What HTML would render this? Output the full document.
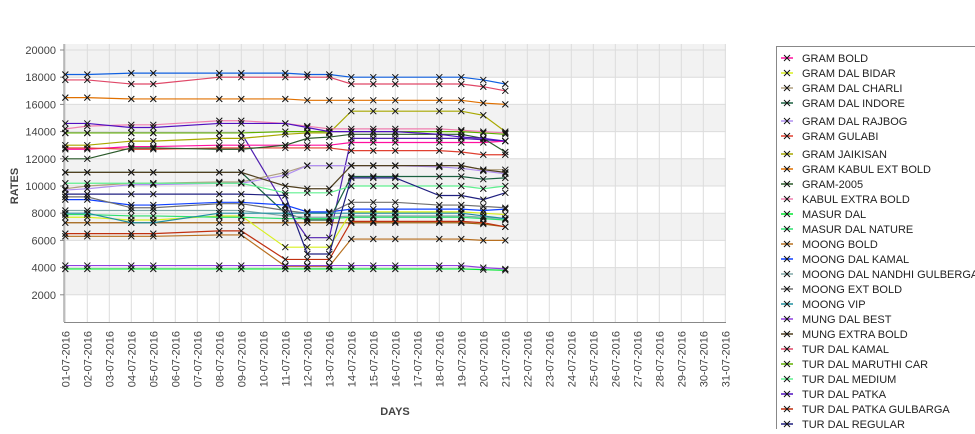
<!DOCTYPE html>
<html><head><meta charset="utf-8"><style>
body{margin:0;background:#fff;width:975px;height:429px;overflow:hidden;font-family:"Liberation Sans",sans-serif}
svg text{font-family:"Liberation Sans",sans-serif}
</style></head><body>
<svg id="chart" width="975" height="429" xmlns="http://www.w3.org/2000/svg"></svg>
<script>
const days=[1,2,4,5,8,9,11,12,13,14,15,16,18,19,20,21];
const yTicks=[2000,4000,6000,8000,10000,12000,14000,16000,18000,20000];
const seriesNames=["GRAM BOLD","GRAM DAL BIDAR","GRAM DAL CHARLI","GRAM DAL INDORE","GRAM DAL RAJBOG","GRAM GULABI","GRAM JAIKISAN","GRAM KABUL EXT BOLD","GRAM-2005","KABUL EXTRA BOLD","MASUR DAL","MASUR DAL NATURE","MOONG BOLD","MOONG DAL KAMAL","MOONG DAL NANDHI GULBERGA","MOONG EXT BOLD","MOONG VIP","MUNG DAL BEST","MUNG EXTRA BOLD","TUR DAL KAMAL","TUR DAL MARUTHI CAR","TUR DAL MEDIUM","TUR DAL PATKA","TUR DAL PATKA GULBARGA","TUR DAL REGULAR"];
const seriesColors=["#ff10a0","#d8f020","#b0a080","#1a6040","#b090f0","#e04030","#a8a800","#e07000","#2b5a2b","#f080b0","#00e830","#30e070","#b87020","#1040ff","#80a8a8","#707070","#2090a0","#9040e0","#504020","#e04868","#60b000","#60f090","#5010c0","#c03010","#202080"];
const s0=[12700,12700,12900,12900,13000,13000,13000,13000,13000,13200,13200,13200,13200,13200,13200,13300];
const s1=[7700,7700,7500,7500,7800,7800,5500,5500,5500,8100,8100,8100,8100,8100,8000,7900];
const s2=[9800,10000,10200,10200,10300,10300,11000,11500,11500,11500,11500,11500,11500,11500,11200,11200];
const s3=[11000,11000,11000,11000,11000,11000,8000,7500,7500,10700,10700,10700,10700,10700,10500,10600];
const s4=[9700,9800,10100,10100,10200,10200,10800,11500,11500,11500,11500,11500,11400,11300,11100,10900];
const s5=[12800,12800,12700,12700,12800,12800,12800,12800,12800,12600,12600,12600,12600,12500,12300,12300];
const s6=[13000,13000,13300,13300,13500,13500,13800,13900,13900,15500,15500,15500,15500,15500,15200,14000];
const s7=[16500,16500,16400,16400,16400,16400,16400,16300,16300,16300,16300,16300,16300,16300,16100,16000];
const s8=[12000,12000,12800,12800,12700,12700,13000,13500,13600,13800,13800,13800,13800,13800,13500,12500];
const s9=[14200,14400,14500,14500,14800,14800,14600,14400,14200,14200,14200,14200,14200,14100,14000,13900];
const s10=[3900,3900,3900,3900,3900,3900,3900,3900,3900,3900,3900,3900,3900,3900,3850,3800];
const s11=[7900,7900,7800,7800,7700,7700,7600,7600,7600,7700,7700,7700,7700,7700,7600,7500];
const s12=[6300,6300,6300,6300,6400,6400,4100,4100,4100,6100,6100,6100,6100,6100,6000,6000];
const s13=[9000,9000,8600,8600,8800,8800,8600,8100,8100,8300,8300,8300,8300,8300,8200,8300];
const s14=[8200,8200,8200,8200,8200,8200,7800,7700,7700,7800,7800,7800,7800,7800,7700,7600];
const s15=[9200,9200,8400,8400,8700,8700,8200,8000,8000,8800,8800,8800,8600,8600,8500,8400];
const s16=[8000,8000,7300,7300,8000,8000,8000,8000,8000,8000,8000,8000,8000,8000,7800,7600];
const s17=[4150,4150,4150,4150,4150,4150,4150,4150,4150,4150,4150,4150,4150,4150,4000,3900];
const s18=[11000,11000,11000,11000,11000,11000,10000,9800,9800,11500,11500,11500,11500,11500,11200,11000];
const s19=[17800,17800,17500,17500,18000,18000,18000,18000,18000,17500,17500,17500,17500,17500,17300,17000];
const s20=[13900,13900,13900,13900,13900,13900,14000,14000,14000,14000,14000,14000,14000,14000,13900,13800];
const s21=[10200,10200,10200,10200,10200,10200,9500,9500,9500,10000,10000,10000,10000,10000,9800,10000];
const s22=[14600,14600,14300,14300,14600,14600,14600,14300,14000,14000,14000,14000,13800,13600,13500,13300];
const s23=[6500,6500,6500,6500,6700,6700,4600,4600,4600,7400,7400,7400,7400,7400,7300,7000];
const s24=[9400,9400,9400,9400,9400,9400,9300,5000,5000,10600,10600,10600,9300,9300,9000,9500];
const extraTop=[18200,18200,18300,18300,18300,18300,18300,18200,18200,18000,18000,18000,18000,18000,17800,17500];
const extraDip=[13900,13900,13900,13900,13900,13900,8500,6200,6200,13500,13500,13500,13500,13500,13400,13300];
const extraBrown=[7300,7300,7300,7300,7300,7300,7300,7300,7300,7300,7300,7300,7300,7300,7200,7000];
const seriesData=[s0,s1,s2,s3,s4,s5,s6,s7,s8,s9,s10,s11,s12,s13,s14,s15,s16,s17,s18,s19,s20,s21,s22,s23,s24];

const NS="http://www.w3.org/2000/svg";
const svg=document.getElementById('chart');
const X0=65.3,DX=22,Y0=322,YK=272/20000,PL=64,PR=726,PT=44;
const xs=d=>X0+(d-1)*DX;
const ys=v=>Y0-v*YK;
function mk(tag,attrs,parent){const e=document.createElementNS(NS,tag);for(const k in attrs)e.setAttribute(k,attrs[k]);(parent||svg).appendChild(e);return e;}

const grid=mk('g',{});


mk('rect',{x:PL,y:PT,width:PR-PL,height:Y0-PT,fill:'#fff'},grid);
for(let i=0;i<yTicks.length;i++){
  if(i%2===0){const top=Math.min(yTicks[i]+2000,20000);mk('rect',{x:PL,y:ys(top),width:PR-PL,height:ys(yTicks[i])-ys(top),fill:'#f2f2f2'},grid);}
}
mk('rect',{x:PL,y:PT,width:PR-PL,height:ys(20000)-PT,fill:'#f2f2f2'},grid);
for(let d=1;d<=31;d++){mk('line',{x1:xs(d),x2:xs(d),y1:PT,y2:Y0,stroke:'#dcdcdc','stroke-width':1},grid);}
yTicks.forEach(v=>{mk('line',{x1:PL,x2:PR,y1:ys(v),y2:ys(v),stroke:'#dcdcdc','stroke-width':1},grid);});

const ax=mk('g',{});


mk('line',{x1:PL,x2:PL,y1:PT,y2:Y0,stroke:'#888'},ax);
yTicks.forEach(v=>{
  mk('line',{x1:PL-4,x2:PL,y1:ys(v),y2:ys(v),stroke:'#888'},ax);
  const t=mk('text',{x:PL-8,y:ys(v)+4,'text-anchor':'end','font-size':11,fill:'#444'},ax);t.textContent=v;
  
  
});
const yl=mk('text',{x:18,y:186,'font-size':11,'font-weight':'bold',fill:'#444','text-anchor':'middle',transform:'rotate(-90 18 186)'});
yl.textContent='RATES';



const xa=mk('g',{});


mk('line',{x1:PL,x2:PR,y1:Y0+0.5,y2:Y0+0.5,stroke:'#888'},xa);
for(let d=1;d<=31;d++){
  const lab=String(d).padStart(2,'0')+'-07-2016';
  const x=xs(d)+4;
  const t=mk('text',{x:x,y:331,'font-size':11,fill:'#444','text-anchor':'end',transform:'rotate(-90 '+x+' 331)'},xa);
  t.textContent=lab;
  
  
}
const xl=mk('text',{x:395,y:415,'font-size':11,'font-weight':'bold',fill:'#444','text-anchor':'middle'});
xl.textContent='DAYS';



function drawSeries(vals,color,name){
  const g=mk('g',{});
  
  
  mk('polyline',{points:vals.map((v,i)=>xs(days[i])+','+ys(v)).join(' '),fill:'none',stroke:color,'stroke-width':1.2},g);
  vals.forEach((v,i)=>{const x=xs(days[i]),y=ys(v);
    mk('path',{d:`M${x-3},${y-3}L${x+3},${y+3}M${x-3},${y+3}L${x+3},${y-3}`,stroke:'#111','stroke-width':1},g);});
}
drawSeries(extraTop,'#1060e0','extra-top');
drawSeries(extraDip,'#5020b0','extra-dip');
drawSeries(extraBrown,'#a06010','extra-brown');
seriesData.forEach((s,i)=>drawSeries(s,seriesColors[i],seriesNames[i]));

const lg=mk('g',{});


mk('rect',{x:776.5,y:46.5,width:210,height:400,fill:'#fff',stroke:'#888'},lg);
const legendY=[58,73,88,103,121,136,154,169,184,199,214,229,244,259,274,289,304,319,334,349,364,379,394,409,424];
seriesNames.forEach((n,i)=>{
  const e=mk('g',{},lg);
  
  
  const y=legendY[i];
  mk('line',{x1:781,x2:793,y1:y,y2:y,stroke:seriesColors[i],'stroke-width':1.5},e);
  mk('path',{d:`M784,${y-3}L790,${y+3}M784,${y+3}L790,${y-3}`,stroke:'#111'},e);
  const t=mk('text',{x:802,y:y+4,'font-size':11,fill:'#222'},e);t.textContent=n;
});
</script>
</body></html>
